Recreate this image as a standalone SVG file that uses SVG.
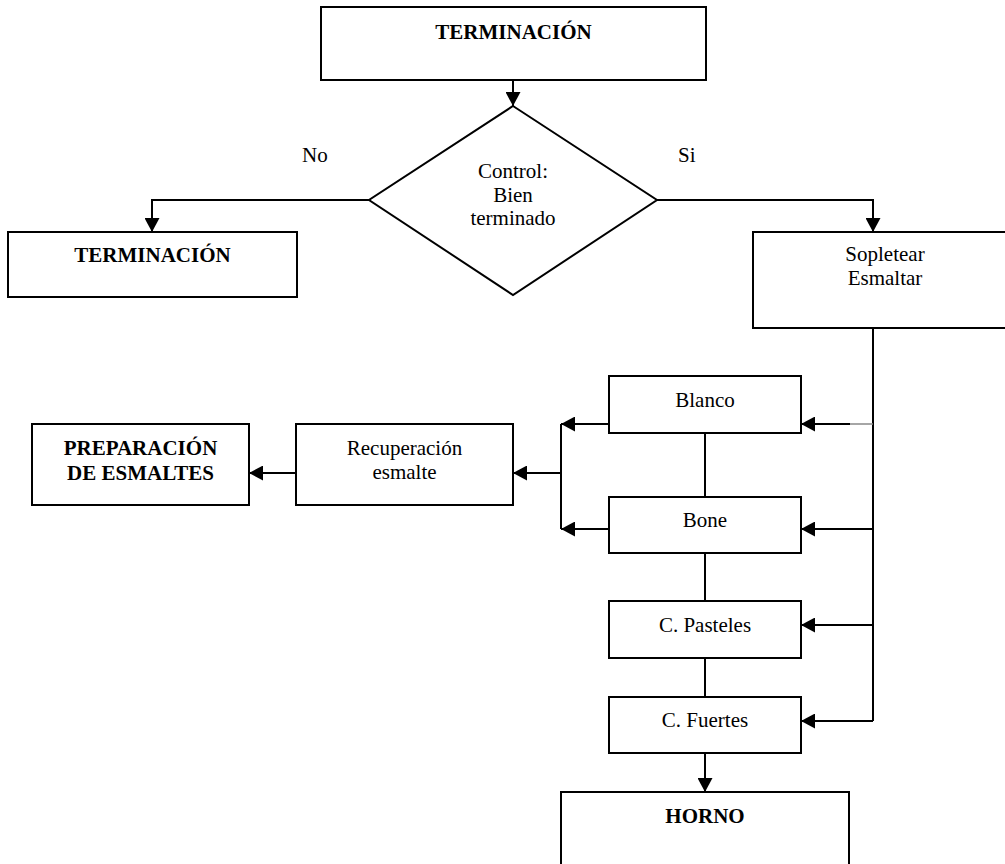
<svg xmlns="http://www.w3.org/2000/svg" width="1005" height="864" viewBox="0 0 1005 864">
  <style>
    .box { fill: #fff; stroke: #000; stroke-width: 2; }
    .lbl { font-family: "Liberation Serif", "Times New Roman", serif; font-size: 21px; fill: #000; text-anchor: middle; }
    .bold { font-weight: bold; }
    .side { text-anchor: start; }
    .wire { fill: none; stroke: #000; stroke-width: 2; }
    .faint { fill: none; stroke: #888; stroke-width: 1.5; }
  </style>
  <defs>
    <marker id="arrow" viewBox="0 0 14 15" refX="14" refY="7.5" markerWidth="14" markerHeight="15" markerUnits="userSpaceOnUse" orient="auto">
      <path d="M0,0 L14,7.5 L0,15 Z" fill="#000"/>
    </marker>
  </defs>

  <rect width="1005" height="864" fill="#fff"/>

  <!-- connectors -->
  <g id="connectors">
    <path class="wire" d="M513,80 V106" marker-end="url(#arrow)"/>
    <path class="wire" d="M369,200 H152 V232" marker-end="url(#arrow)"/>
    <path class="wire" d="M657,200 H873 V232" marker-end="url(#arrow)"/>
    <!-- feed line down the right side -->
    <path class="wire" d="M873,328 V721"/>
    <path class="faint" d="M873,424 H850"/>
    <path class="wire" d="M850,424 H801" marker-end="url(#arrow)"/>
    <path class="wire" d="M873,529 H801" marker-end="url(#arrow)"/>
    <path class="wire" d="M873,625 H801" marker-end="url(#arrow)"/>
    <path class="wire" d="M873,721 H801" marker-end="url(#arrow)"/>
    <!-- recovery branch on the left -->
    <path class="wire" d="M609,424 H561" marker-end="url(#arrow)"/>
    <path class="wire" d="M609,529 H561" marker-end="url(#arrow)"/>
    <path class="wire" d="M561,424 V529"/>
    <path class="wire" d="M561,473 H513" marker-end="url(#arrow)"/>
    <path class="wire" d="M296,473 H249" marker-end="url(#arrow)"/>
    <!-- links between colour boxes -->
    <path class="wire" d="M705,433 V497"/>
    <path class="wire" d="M705,553 V601"/>
    <path class="wire" d="M705,658 V697"/>
    <path class="wire" d="M705,753 V792" marker-end="url(#arrow)"/>
  </g>

  <g id="terminacion-top">
    <rect class="box" x="321" y="7" width="385" height="73"/>
    <text class="lbl bold" x="513.5" y="39">TERMINACIÓN</text>
  </g>

  <g id="control">
    <polygon points="513,106 657,200 513,295 369,200" fill="#fff" stroke="#000" stroke-width="2"/>
    <text class="lbl" x="513" y="178">Control:</text>
    <text class="lbl" x="513" y="201.5">Bien</text>
    <text class="lbl" x="513" y="225">terminado</text>
  </g>

  <g id="label-no">
    <text class="lbl side" x="302" y="162">No</text>
  </g>
  <g id="label-si">
    <text class="lbl side" x="678" y="162">Si</text>
  </g>

  <g id="terminacion-left">
    <rect class="box" x="8" y="232" width="289" height="65"/>
    <text class="lbl bold" x="152.5" y="262">TERMINACIÓN</text>
  </g>

  <g id="sopletear">
    <rect class="box" x="753" y="232" width="264" height="96"/>
    <text class="lbl" x="885" y="261">Sopletear</text>
    <text class="lbl" x="885" y="285">Esmaltar</text>
  </g>

  <g id="blanco">
    <rect class="box" x="609" y="376" width="192" height="57"/>
    <text class="lbl" x="705" y="407">Blanco</text>
  </g>

  <g id="bone">
    <rect class="box" x="609" y="497" width="192" height="56"/>
    <text class="lbl" x="705" y="527">Bone</text>
  </g>

  <g id="pasteles">
    <rect class="box" x="609" y="601" width="192" height="57"/>
    <text class="lbl" x="705" y="632">C. Pasteles</text>
  </g>

  <g id="fuertes">
    <rect class="box" x="609" y="697" width="192" height="56"/>
    <text class="lbl" x="705" y="727">C. Fuertes</text>
  </g>

  <g id="horno">
    <rect class="box" x="561" y="792" width="288" height="90"/>
    <text class="lbl bold" x="705" y="823">HORNO</text>
  </g>

  <g id="recuperacion">
    <rect class="box" x="296" y="424" width="217" height="81"/>
    <text class="lbl" x="404.5" y="455">Recuperación</text>
    <text class="lbl" x="404.5" y="479">esmalte</text>
  </g>

  <g id="preparacion">
    <rect class="box" x="32" y="424" width="217" height="81"/>
    <text class="lbl bold" x="140.5" y="455">PREPARACIÓN</text>
    <text class="lbl bold" x="140.5" y="480">DE ESMALTES</text>
  </g>
</svg>
